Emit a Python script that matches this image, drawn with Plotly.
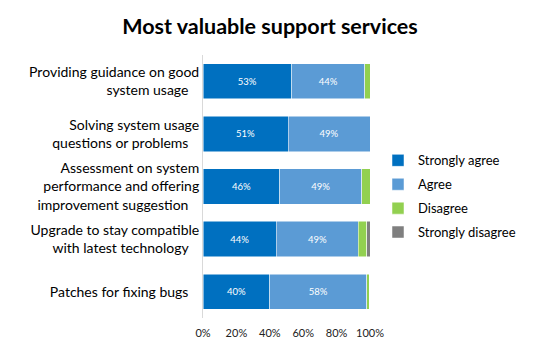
import plotly.graph_objects as go

categories = [
    "Providing guidance on good<br>system usage",
    "Solving system usage<br>questions or problems",
    "Assessment on system<br>performance and offering<br>improvement suggestion",
    "Upgrade to stay compatible<br>with latest technology",
    "Patches for fixing bugs",
]
strongly_agree = [53, 51, 46, 44, 40]
agree = [44, 49, 49, 49, 58]
disagree = [3, 0, 5, 5, 1.5]
strongly_disagree = [0, 0, 0, 2, 0]
x_ticks = [0, 20, 40, 60, 80, 100]
x_tick_labels = ["0%", "20%", "40%", "60%", "80%", "100%"]

FONT = "Lato, Carlito, sans-serif"

series = [
    ("Strongly agree", strongly_agree, "#0070C0", True),
    ("Agree", agree, "#5B9BD5", True),
    ("Disagree", disagree, "#92D050", False),
    ("Strongly disagree", strongly_disagree, "#7F7F7F", False),
]

fig = go.Figure()
for i, (name, vals, color, show_text) in enumerate(series):
    fig.add_trace(go.Bar(
        y=categories, x=vals, name=name, orientation="h",
        marker=dict(color=color, line=dict(width=0.5, color="white")),
        text=[f"{v}%" for v in vals] if show_text else None,
        textposition="inside" if show_text else "none",
        insidetextanchor="middle",
        textfont=dict(color="white", size=9.5, family=FONT),
        legendgroup=f"g{i}",
        hoverinfo="x+name",
    ))

fig.update_layout(
    barmode="stack",
    bargap=0.33,
    width=540, height=359,
    margin=dict(l=203, r=170, t=55, b=41, autoexpand=False),
    paper_bgcolor="white", plot_bgcolor="white",
    font=dict(family=FONT, color="#000000"),
    title=dict(text="<b>Most valuable support services</b>", x=0.5, xanchor="center",
               y=0.925, yanchor="middle", font=dict(size=21.5, color="#000000", family=FONT)),
    xaxis=dict(range=[0, 100], tickvals=x_ticks, ticktext=x_tick_labels,
               showgrid=False, zeroline=False, showline=False, automargin=False,
               tickfont=dict(size=11, color="#222"), ticks="", ticklabelstandoff=7),
    yaxis=dict(autorange="reversed", showgrid=False, showline=True, automargin=False,
               linecolor="#d9d9d9", linewidth=1, ticks="",
               tickfont=dict(size=14, color="#000"), ticksuffix="   "),
    legend=dict(xref="container", yref="container", x=0.7, y=0.595,
                xanchor="left", yanchor="top", traceorder="grouped",
                tracegroupgap=4, font=dict(size=13, color="#000", family=FONT),
                itemwidth=30),
    showlegend=True,
)

fig.write_html("out.html", config={"displayModeBar": False},
               post_script="document.body.style.margin='0';")
